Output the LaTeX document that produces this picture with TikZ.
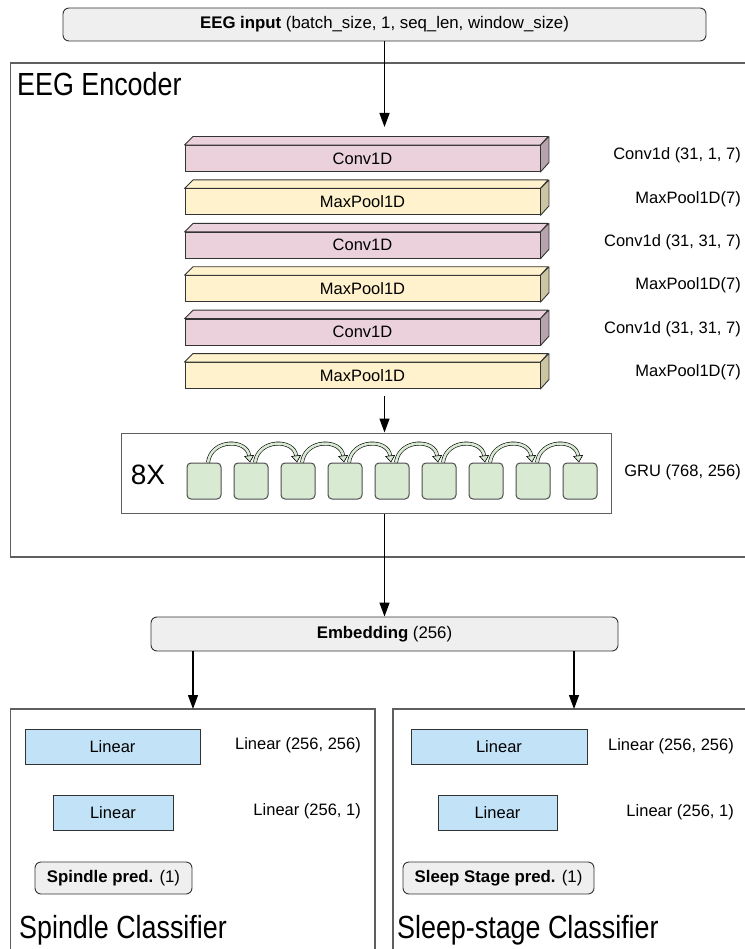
\documentclass[tikz,border=0pt]{standalone}
\usepackage{fontspec}
\setmainfont{Liberation Sans}
\newfontfamily\headfont[FakeStretch=0.84]{Liberation Sans}
\usetikzlibrary{arrows.meta,positioning}

\definecolor{convfill}{HTML}{EAD1DC}
\definecolor{convside}{HTML}{B7A3AD}
\definecolor{poolfill}{HTML}{FFF2CC}
\definecolor{poolside}{HTML}{CCC5A1}
\definecolor{grufill}{HTML}{D9EAD3}
\definecolor{linfill}{HTML}{C2E2F7}
\definecolor{boxgrey}{HTML}{EFEFEF}
\definecolor{framegrey}{HTML}{5F5F5F}

\newcommand{\txtsize}{\fontsize{16.5}{19}\selectfont}
\newcommand{\smallsize}{\fontsize{16.8}{19}\selectfont}

\tikzset{
    arr/.style={-{Triangle[length=14pt,width=10pt]}, line width=1.3pt},
    frame/.style={draw=framegrey, line width=1.2pt},
    iobox/.style={draw=black!80, fill=boxgrey, rounded corners=6pt, line width=0.9pt, inner sep=0pt, font=\smallsize},
    layer/.style={draw=black!80, line width=0.9pt, minimum width=355pt, minimum height=26pt, inner sep=0pt, font=\txtsize},
    side/.style={draw=black!80, line width=0.9pt, line join=round},
    cell/.style={draw=black!70, fill=grufill, rounded corners=4pt, minimum width=34pt, minimum height=36pt, line width=1pt},
    gruarr/.style={double=grufill, double distance=2.6pt, line width=0.6pt, -{Triangle[length=7pt,width=10pt,fill=grufill,line width=0.6pt]}},
    linbox/.style={draw=black!80, fill=linfill, minimum height=35pt, line width=0.9pt, font=\txtsize},
    heading/.style={anchor=west, inner sep=0pt, font=\headfont\fontsize{32}{36}\selectfont},
    note/.style={anchor=east, inner sep=0pt, font=\txtsize}
}

\begin{document}
\begin{tikzpicture}[x=1pt, y=-1pt]
    \useasboundingbox (0,0) rectangle (744,949);

    % input
    \node[iobox, minimum width=643pt, minimum height=33pt] (input) at (384.5,24.5)
        {\textbf{EEG input} (batch\_size, 1, seq\_len, window\_size)};

    % EEG encoder
    \draw[frame] (10.5,63) rectangle (770,557);
    \node[heading] (enctitle) at (17,84) {EEG Encoder};
    \coordinate (encin) at (384.5,127);
    \draw[arr] (input) -- (encin);

    \foreach \i/\fc/\sc/\name/\lab in {0/convfill/convside/Conv1D/{Conv1d (31, 1, 7)},
            1/poolfill/poolside/MaxPool1D/{MaxPool1D(7)},
            2/convfill/convside/Conv1D/{Conv1d (31, 31, 7)},
            3/poolfill/poolside/MaxPool1D/{MaxPool1D(7)},
            4/convfill/convside/Conv1D/{Conv1d (31, 31, 7)},
            5/poolfill/poolside/MaxPool1D/{MaxPool1D(7)}} {
        \node[layer, fill=\fc] (l\i) at (362.5,158.5+43.4*\i) {\name};
        \draw[side, fill=\fc] (l\i.north west) -- ++(8.5,-8.5) -- ++(355,0) -- (l\i.north east) -- cycle;
        \draw[side, fill=\sc] (l\i.north east) -- ++(8.5,-8.5) -- ++(0,26) -- (l\i.south east) -- cycle;
        \node[note] (lab\i) at (741,155.5+43.4*\i) {\lab};
    }

    % GRU
    \node[draw=framegrey, line width=1pt, minimum width=490pt, minimum height=80pt] (gru) at (366,473) {};
    \node[inner sep=0pt, font=\fontsize{28}{30}\selectfont] (rep) at (148,475) {8X};
    \foreach \i in {0,...,8}
        \node[cell] (c\i) at (204+47*\i,481) {};
    \foreach \j [count=\i from 0] in {1,...,8}
        \draw[gruarr] ([xshift=4pt]c\i.north) .. controls +(3,-24) and +(-3,-24) .. ([xshift=-1pt]c\j.north);
    \node[note] (grulab) at (741,472) {GRU (768, 256)};
    \draw[arr] ([yshift=-7pt]l5.south -| input) -- (gru.north -| input);

    % embedding
    \node[iobox, minimum width=467pt, minimum height=34pt] (emb) at (384.5,634) {\textbf{Embedding} (256)};
    \draw[arr] (gru.south -| emb.north) -- (emb.north);

    % spindle classifier
    \begin{scope}
        \draw[frame] (10.5,709) rectangle (375,970);
        \coordinate (spintop) at (193,709);
        \draw[arr] (emb.south -| spintop) -- (spintop);
        \node[linbox, minimum width=175pt] (spinlin1) at (112.5,746.5) {Linear};
        \node[linbox, minimum width=120pt] (spinlin2) at (113,812.5) {Linear};
        \node[iobox, minimum width=157pt, minimum height=32pt] (spinpred) at (113.5,878) {\textbf{Spindle pred.} (1)};
        \node[note] (spinlab1) at (361,745) {Linear (256, 256)};
        \node[note] (spinlab2) at (361,811) {Linear (256, 1)};
        \node[heading] (spintitle) at (19,930) {Spindle Classifier};
    \end{scope}

    % sleep-stage classifier
    \begin{scope}
        \draw[frame] (393,709) rectangle (770,970);
        \coordinate (stagetop) at (574,709);
        \draw[arr] (emb.south -| stagetop) -- (stagetop);
        \node[linbox, minimum width=176pt] (stagelin1) at (499,747) {Linear};
        \node[linbox, minimum width=119pt] (stagelin2) at (497.5,812.5) {Linear};
        \node[iobox, minimum width=191pt, minimum height=32pt] (stagepred) at (498.5,878) {\textbf{Sleep Stage pred.} (1)};
        \node[note] (stagelab1) at (734,746) {Linear (256, 256)};
        \node[note] (stagelab2) at (734,812) {Linear (256, 1)};
        \node[heading] (stagetitle) at (397,930) {Sleep-stage Classifier};
    \end{scope}
\end{tikzpicture}
\end{document}
